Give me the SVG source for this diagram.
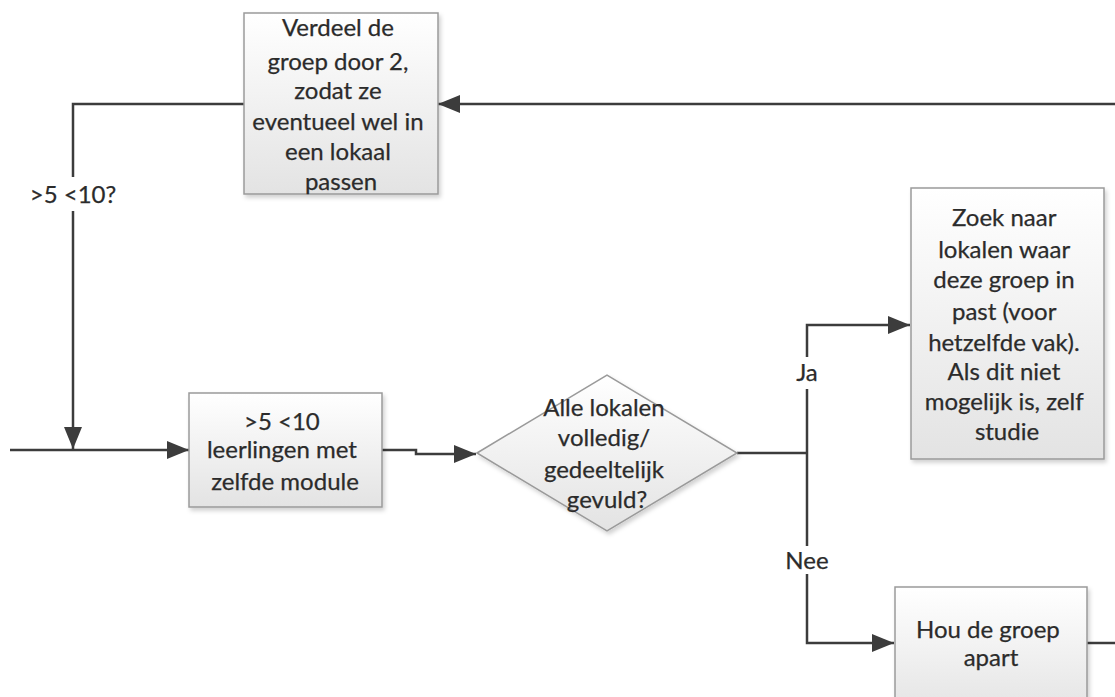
<svg xmlns="http://www.w3.org/2000/svg" width="1115" height="697" viewBox="0 0 1115 697">
  <defs>
    <linearGradient id="boxFill" x1="0" y1="0" x2="0" y2="1">
      <stop offset="0" stop-color="#ffffff"/>
      <stop offset="1" stop-color="#e3e3e3"/>
    </linearGradient>
    <filter id="shadow" x="-10%" y="-10%" width="125%" height="125%">
      <feDropShadow dx="2" dy="3" stdDeviation="2" flood-color="#000" flood-opacity="0.18"/>
    </filter>
    <marker id="arrow" viewBox="0 0 22 18" refX="22" refY="9" markerWidth="22" markerHeight="18" markerUnits="userSpaceOnUse" orient="auto">
      <path d="M0,0 L22,9 L0,18 Z" fill="#3c3c3c"/>
    </marker>
  </defs>
  <style>
    .shape { fill: url(#boxFill); stroke: #9a9a9a; stroke-width: 1.5; filter: url(#shadow); }
    .label { font-family: Lato, "Liberation Sans", sans-serif; font-size: 24px; fill: #2b2b2b; stroke: #2b2b2b; stroke-width: 0.25; text-anchor: middle; }
    .edge { fill: none; stroke: #3c3c3c; stroke-width: 2.5; }
    .arrow { marker-end: url(#arrow); }
  </style>

  <rect width="1115" height="697" fill="#ffffff"/>

  <!-- connectors -->
  <g id="connectors">
    <!-- feedback from the right into the split step -->
    <path class="edge arrow" d="M1115,104 H438"/>
    <!-- split step back down to the entry line -->
    <path class="edge" d="M244,104 H73 V177"/>
    <path class="edge arrow" d="M73,211 V449"/>
    <!-- entry line -->
    <path class="edge arrow" d="M10,450 H189"/>
    <!-- group to decision -->
    <path class="edge arrow" d="M382,450 H416 V454 H476"/>
    <!-- decision out -->
    <path class="edge" d="M737,453 H807"/>
    <!-- Ja branch -->
    <path class="edge" d="M807,453 V389"/>
    <path class="edge arrow" d="M807,357 V325 H910"/>
    <!-- Nee branch -->
    <path class="edge" d="M807,453 V546"/>
    <path class="edge arrow" d="M807,574 V643 H894"/>
    <!-- keep apart, outgoing -->
    <path class="edge" d="M1087,643 H1115"/>
    <text class="label" x="73" y="203">&gt;5 &lt;10?</text>
    <text class="label" x="807" y="381">Ja</text>
    <text class="label" x="807" y="569">Nee</text>
  </g>

  <g id="split">
    <rect class="shape" x="244" y="13" width="194" height="181"/>
    <text class="label">
      <tspan x="341" y="36">Verdeel de</tspan>
      <tspan x="341" y="70">groep door 2,</tspan>
      <tspan x="341" y="99">zodat ze</tspan>
      <tspan x="341" y="130">eventueel wel in</tspan>
      <tspan x="341" y="160">een lokaal</tspan>
      <tspan x="341" y="190">passen</tspan>
    </text>
  </g>

  <g id="group">
    <rect class="shape" x="189" y="393" width="193" height="114"/>
    <text class="label">
      <tspan x="285" y="430">&gt;5 &lt;10</tspan>
      <tspan x="285" y="458">leerlingen met</tspan>
      <tspan x="285" y="490">zelfde module</tspan>
    </text>
  </g>

  <g id="decision">
    <polygon class="shape" points="477,453 607,375 737,453 607,531"/>
    <text class="label">
      <tspan x="607" y="416">Alle lokalen</tspan>
      <tspan x="607" y="446">volledig/</tspan>
      <tspan x="607" y="478">gedeeltelijk</tspan>
      <tspan x="607" y="508">gevuld?</tspan>
    </text>
  </g>

  <g id="search">
    <rect class="shape" x="911" y="188" width="193" height="271"/>
    <text class="label">
      <tspan x="1007" y="226">Zoek naar</tspan>
      <tspan x="1007" y="258">lokalen waar</tspan>
      <tspan x="1007" y="288">deze groep in</tspan>
      <tspan x="1007" y="320">past (voor</tspan>
      <tspan x="1007" y="351">hetzelfde vak).</tspan>
      <tspan x="1007" y="380">Als dit niet</tspan>
      <tspan x="1007" y="410">mogelijk is, zelf</tspan>
      <tspan x="1007" y="440">studie</tspan>
    </text>
  </g>

  <g id="apart">
    <rect class="shape" x="895" y="587" width="192" height="130"/>
    <text class="label">
      <tspan x="991" y="638">Hou de groep</tspan>
      <tspan x="991" y="666">apart</tspan>
    </text>
  </g>
</svg>
